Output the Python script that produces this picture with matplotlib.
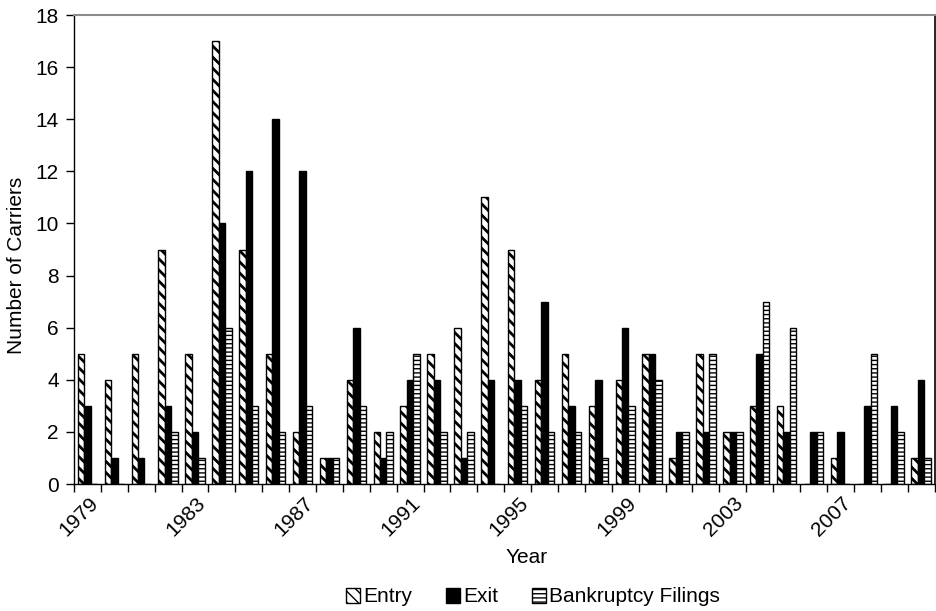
import matplotlib
matplotlib.use("Agg")
import matplotlib.pyplot as plt
import matplotlib.transforms as mtransforms
import numpy as np

years = list(range(1979, 2011))
entry = [5, 4, 5, 9, 5, 17, 9, 5, 2, 1, 4, 2, 3, 5, 6, 11,
         9, 4, 5, 3, 4, 5, 1, 5, 2, 3, 3, 0, 1, 0, 0, 1]
exit_ = [3, 1, 1, 3, 2, 10, 12, 14, 12, 1, 6, 1, 4, 4, 1, 4,
         4, 7, 3, 4, 6, 5, 2, 2, 2, 5, 2, 2, 2, 3, 3, 4]
bankruptcy = [0, 0, 0, 2, 1, 6, 3, 2, 3, 1, 3, 2, 5, 2, 2, 0,
              3, 2, 2, 1, 3, 4, 2, 5, 2, 7, 6, 2, 0, 5, 2, 1]
series_names = ["Entry", "Exit", "Bankruptcy Filings"]

plt.rcParams['font.family'] = ['Liberation Sans', 'DejaVu Sans']
FS = 15

fig = plt.figure(figsize=(9.36, 6.11), dpi=100)
ax = fig.add_axes([74/936, 1 - 484/611, (934.5-74)/936, (484-15)/611])

x = np.arange(len(years))
w = 0.24

with plt.rc_context({'hatch.linewidth': 2.0}):
    b1 = ax.bar(x - w, entry, w, color='white', edgecolor='black', linewidth=1.0,
                hatch='\\\\\\', label=series_names[0])
b2 = ax.bar(x, exit_, w, color='black', edgecolor='black', linewidth=1.0,
            label=series_names[1])
with plt.rc_context({'hatch.linewidth': 1.0}):
    b3 = ax.bar(x + w, bankruptcy, w, color='white', edgecolor='black', linewidth=1.0,
                hatch='----', label=series_names[2])

ax.set_xlim(-0.5, len(years) - 0.5)
ax.set_ylim(0, 18)
ax.set_yticks(range(0, 19, 2))
ax.tick_params(axis='y', labelsize=FS, length=6, width=1, direction='out', pad=5)

ax.set_xticks(x[::4])
ax.set_xticklabels([str(y) for y in years[::4]], rotation=45, ha='right',
                   rotation_mode='anchor', fontsize=FS)
ax.tick_params(axis='x', which='major', length=0, pad=7)
offset = mtransforms.ScaledTranslation(1/100, 0, fig.dpi_scale_trans)
for lab in ax.get_xticklabels():
    lab.set_transform(lab.get_transform() + offset)
ax.set_xticks(np.arange(-0.5, len(years), 1), minor=True)
ax.tick_params(axis='x', which='minor', length=6, width=1, direction='out')

ax.spines['top'].set_color('#8c8c8c')
ax.spines['top'].set_linewidth(1.5)
ax.spines['right'].set_color('black')
ax.spines['right'].set_linewidth(1.2)
ax.spines['left'].set_linewidth(1.0)
ax.spines['bottom'].set_linewidth(1.0)

ax.set_ylabel("Number of Carriers", fontsize=FS)
ax.yaxis.set_label_coords((26-74)/860.5, (484-265)/469)
ax.set_xlabel("Year", fontsize=FS)
ax.xaxis.set_label_coords((527-74)/860.5, -(548-484)/469)

fig.legend(handles=[b1, b2, b3], labels=series_names, loc='center',
           bbox_to_anchor=(533/936, 1 - 597/611), ncol=3, frameon=False, fontsize=FS,
           handlelength=0.7, handleheight=0.7, handletextpad=0.15, columnspacing=1.6)

fig.savefig("out.png", dpi=100)
